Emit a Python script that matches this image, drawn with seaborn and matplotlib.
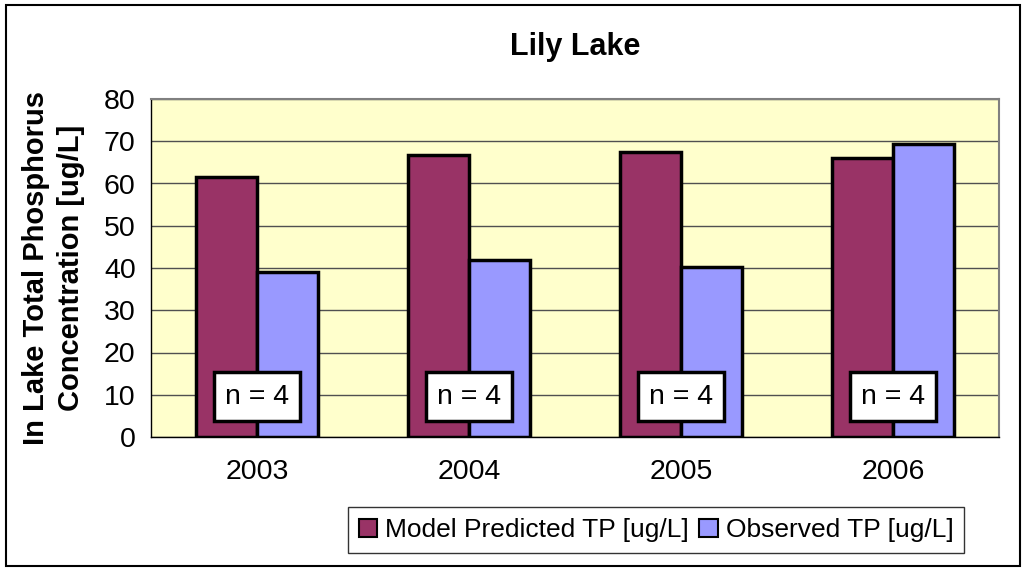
import matplotlib
matplotlib.use("Agg")
import matplotlib.pyplot as plt
import matplotlib.patches as mpatches
import pandas as pd
import seaborn as sns

# data
years = ["2003", "2004", "2005", "2006"]
model_tp = [61.6, 66.7, 67.5, 66.0]
observed_tp = [39.0, 42.0, 40.2, 69.3]
n_samples = [4, 4, 4, 4]
series_names = ["Model Predicted TP [ug/L]", "Observed TP [ug/L]"]
series_colors = ["#993366", "#9999FF"]

df = pd.DataFrame({
    "year": years * 2,
    "tp": model_tp + observed_tp,
    "series": [series_names[0]] * len(years) + [series_names[1]] * len(years),
})

sns.set_style("white")
plt.rcParams["font.family"] = ["Liberation Sans", "DejaVu Sans"]
plt.rcParams.update({"text.color": "black", "axes.labelcolor": "black",
                     "xtick.color": "black", "ytick.color": "black"})

fig = plt.figure(figsize=(10.27, 5.71), dpi=100)
ax = fig.add_axes([151 / 1027, 134 / 571, 848 / 1027, 338 / 571])
ax.set_facecolor("#FFFFCC")

sns.barplot(data=df, x="year", y="tp", hue="series", palette=series_colors,
            width=0.58, edgecolor="black", linewidth=2.5, saturation=1,
            legend=False, ax=ax, zorder=3)

ax.set_ylim(0, 80)
ax.set_xlim(-0.5, len(years) - 0.5)
ax.set_yticks(range(0, 81, 10))
ax.yaxis.grid(True, color="#505050", linewidth=1, zorder=0)
ax.set_axisbelow(True)

# category boundary ticks on x axis, like the spreadsheet chart
ax.set_xticks([i + 0.5 for i in range(-1, len(years))], minor=True)
ax.tick_params(axis="x", which="major", length=0, labelsize=20.5, pad=16)
ax.tick_params(axis="x", which="minor", length=8, width=1, color="black", direction="out")
ax.tick_params(axis="y", length=8, width=1, color="black", direction="out", labelsize=20.5, pad=3)

for side in ["top", "right"]:
    ax.spines[side].set_color("#808080")
    ax.spines[side].set_linewidth(1.5)
for side in ["left", "bottom"]:
    ax.spines[side].set_color("black")
    ax.spines[side].set_linewidth(1)

ax.set_xlabel("")
ax.set_ylabel("In Lake Total Phosphorus\nConcentration [ug/L]", fontsize=21,
              fontweight="bold", labelpad=14, linespacing=1.3)

for i, n in enumerate(n_samples):
    ax.text(i, 9.5, f"n = {n}", ha="center", va="center", fontsize=20.5, zorder=5,
            bbox=dict(boxstyle="square,pad=0.4", facecolor="white",
                      edgecolor="black", linewidth=2.5))

fig.text(0.5 * (151 + 999) / 1027, 1 - 47 / 571, "Lily Lake", ha="center",
         va="center", fontsize=22, fontweight="bold")

handles = [mpatches.Patch(facecolor=c, edgecolor="black", linewidth=1.5, label=l)
           for c, l in zip(series_colors, series_names)]
leg = fig.legend(handles=handles, loc="center", bbox_to_anchor=(656 / 1027, 1 - 530 / 571),
                 ncol=2, fontsize=19, frameon=True, fancybox=False, handlelength=0.7,
                 handleheight=0.7, handletextpad=0.3, columnspacing=0.4, borderpad=0.4)
leg.get_frame().set_edgecolor("black")
leg.get_frame().set_linewidth(1)

fig.patches.append(mpatches.Rectangle((6 / 1027, 5 / 571), 1014 / 1027, 561 / 571,
                                      transform=fig.transFigure, fill=False,
                                      edgecolor="black", linewidth=1.5))

fig.savefig("out.png", dpi=100)
